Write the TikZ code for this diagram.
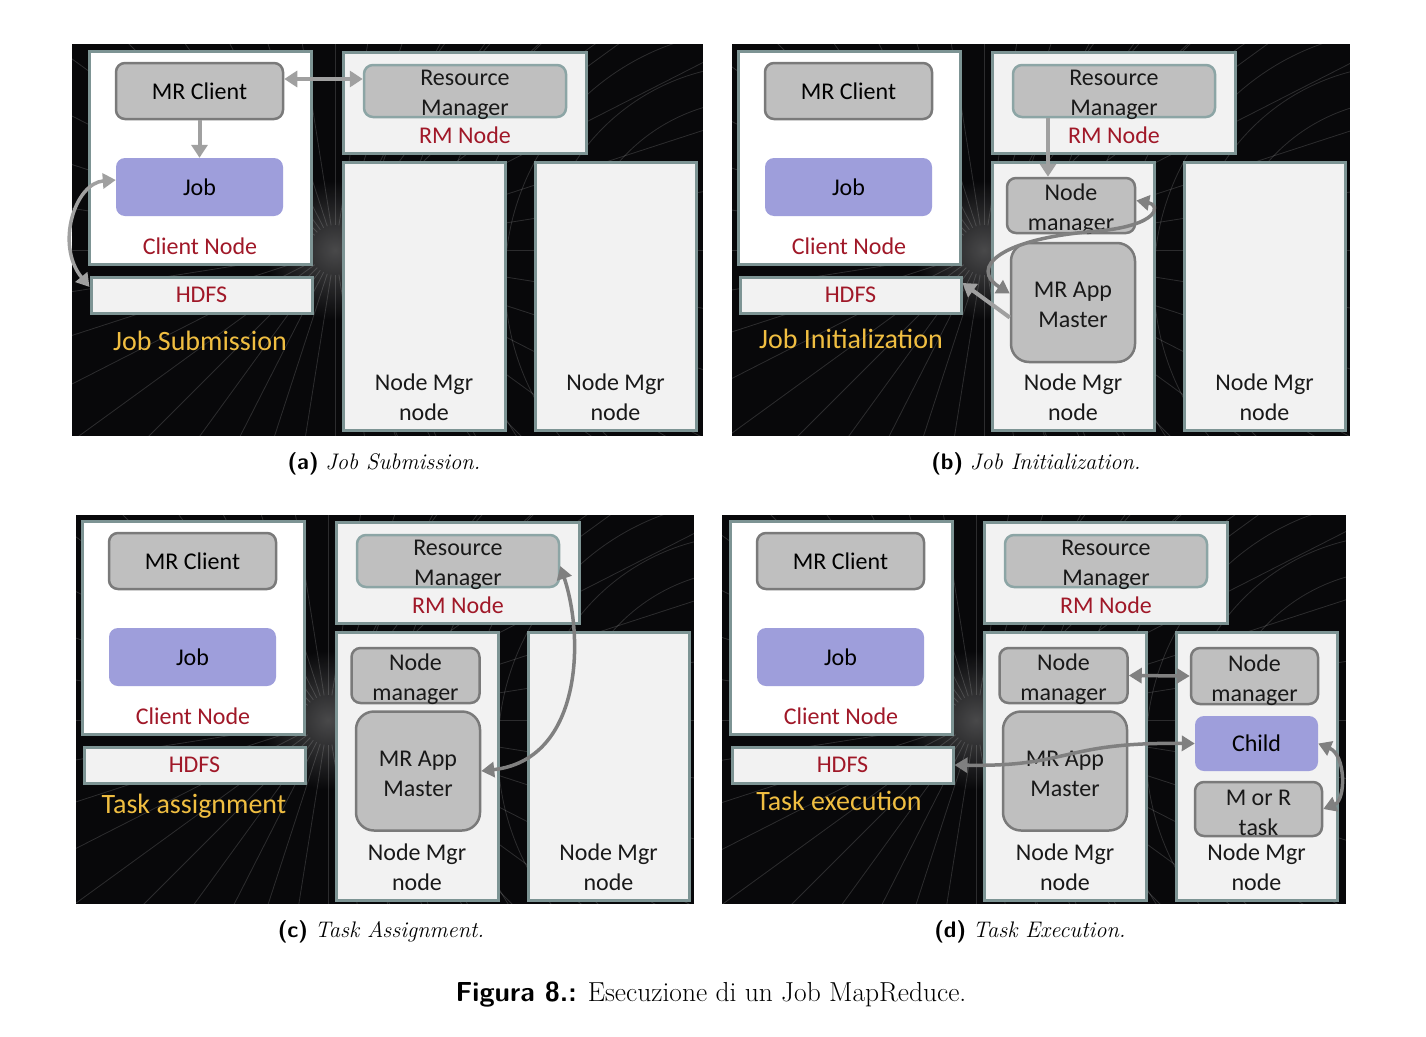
\documentclass[tikz,border=0pt]{standalone}
\usepackage{fontspec}
\newfontfamily\calfont{Carlito}
\usetikzlibrary{arrows.meta}

\definecolor{panelbg}{RGB}{8,8,10}
\definecolor{hostfill}{RGB}{242,242,242}
\definecolor{boxedge}{RGB}{125,148,148}
\definecolor{grayfill}{RGB}{191,191,191}
\definecolor{graydraw}{RGB}{122,122,122}
\definecolor{rmedge}{RGB}{140,165,165}
\definecolor{jobfill}{RGB}{158,158,219}
\definecolor{redtext}{RGB}{160,24,40}
\definecolor{titleyellow}{RGB}{240,190,65}
\definecolor{arrowgray}{RGB}{160,160,160}
\definecolor{curvegray}{RGB}{128,128,128}

\newcommand\boxfont{\calfont\fontsize{24}{30}\selectfont}
\newcommand\titlefont{\calfont\fontsize{28}{32}\selectfont}

\tikzset{
  hostbox/.style={draw=boxedge, line width=3pt, fill=hostfill, inner sep=0pt},
  graybox/.style={draw=graydraw, line width=2.5pt, fill=grayfill, rounded corners=9pt, inner sep=0pt},
  rmbox/.style={graybox, draw=rmedge},
  jobbox/.style={fill=jobfill, rounded corners=9pt, inner sep=0pt, font=\boxfont},
  lbl/.style={align=center, font=\boxfont, text=black!90},
  redlbl/.style={font=\boxfont, text=redtext},
  paneltitle/.style={font=\titlefont, text=titleyellow},
  capt/.style={font=\fontsize{22.5}{27}\selectfont},
  garrow/.style={draw=arrowgray, line width=4pt, -{Triangle[length=13pt,width=16pt]}},
  darrow/.style={draw=arrowgray, line width=4pt, {Triangle[length=13pt,width=16pt]}-{Triangle[length=13pt,width=16pt]}},
  curvearrow/.style={draw=curvegray, line width=3.5pt, {Triangle[length=13pt,width=15pt]}-{Triangle[length=13pt,width=15pt]}},
  streak/.style={white, opacity=.15, line width=.8pt}
}

% boxes shared by the four panels
\newcommand\clusterbase[1]{%
  \node[hostbox, fill=white, minimum width=222pt, minimum height=213pt] (#1-client) at (200,157.5) {};
  \node[graybox, minimum width=167pt, minimum height=56pt, font=\boxfont] (#1-mrc) at (199.5,91) {MR Client};
  \node[jobbox, minimum width=167pt, minimum height=58pt] (#1-job) at (199.5,187) {Job};
  \node[redlbl] (#1-clientlbl) at (200,246) {Client Node};
  \node[hostbox, minimum width=221pt, minimum height=36pt, font=\boxfont, text=redtext] (#1-hdfs) at (201.5,295) {HDFS};
  \node[hostbox, minimum width=243pt, minimum height=101pt] (#1-rmnode) at (464.5,102.5) {};
  \node[rmbox, minimum width=202pt, minimum height=52pt] (#1-rm) at (465,91) {};
  \node[lbl] (#1-rmtxt) at (465,95) {Resource\\Manager};
  \node[redlbl] (#1-rmlbl) at (465,135) {RM Node};
  \node[hostbox, minimum width=162pt, minimum height=268pt] (#1-nm1) at (424,296) {};
  \node[hostbox, minimum width=161pt, minimum height=268pt] (#1-nm2) at (615.5,296) {};
  \node[lbl] (#1-nm1lbl) at (424,397) {Node Mgr\\node};
  \node[lbl] (#1-nm2lbl) at (615.5,397) {Node Mgr\\node};
}

\begin{document}
\begin{tikzpicture}[x=1pt, y=-1pt]

\fill[white] (0,0) rectangle (1426,1036);
\useasboundingbox (0,0) rectangle (1426,1036);

% dark backgrounds
\foreach \xa/\ya/\xb/\yb/\fx/\fy in {72/44/703/436/335/250, 732/44/1350/436/984/250, 76/515/694/904/328/720, 722/515/1346/904/976/720}{
  \fill[panelbg] (\xa,\ya) rectangle (\xb,\yb);
  \begin{scope}
    \clip (\xa,\ya) rectangle (\xb,\yb);
    \shade[inner color=gray!80, outer color=panelbg, opacity=.45] (\fx,\fy) circle[radius=70];
    \foreach \a in {0,9,...,351}
      \draw[streak] (\fx,\fy) ++(\a:25) -- ++(\a:800);
    \foreach \r in {180,215,...,390}
      \draw[streak] (\fx+420,\fy+30) circle[radius=\r];
  \end{scope}
}

% (a)
\begin{scope}
  \clusterbase{a}
  \node[paneltitle] (a-title) at (200,341) {Job Submission};
  \draw[garrow] (a-mrc.south) -- (a-job.north);
  \draw[darrow] ([yshift=12pt]a-mrc.east) -- ([yshift=12pt]a-rm.west);
  \draw[curvearrow, draw=arrowgray] ([yshift=7pt]a-job.west) .. controls (75,183) and (55,245) .. ([yshift=8pt]a-hdfs.west);
\end{scope}

% (b)
\begin{scope}[shift={(649,0)}]
  \clusterbase{b}
  \node[paneltitle] (b-title) at (202,339) {Job Initialization};
  \node[graybox, minimum width=128pt, minimum height=55pt] (b-nmgr) at (422,205.5) {};
  \node[lbl] (b-nmgrtxt) at (422,209) {Node\\manager};
  \node[graybox, rounded corners=18pt, minimum width=124pt, minimum height=119pt] (b-appm) at (424,302.5) {};
  \node[lbl] (b-appmtxt) at (424,305) {MR App\\Master};
  \draw[garrow] ([xshift=-23pt]b-nmgr.north |- b-rm.south) -- ([xshift=-23pt]b-nmgr.north);
  \draw[curvearrow] ([yshift=5pt]b-nmgr.east) .. controls (512,205) and (510,225) .. (450,231)
    .. controls (350,238) and (320,268) .. ([yshift=9pt]b-appm.west);
  \draw[garrow] ([yshift=-15pt]b-appm.west) -- ([yshift=12pt]b-hdfs.east);
\end{scope}

% (c)
\begin{scope}[shift={(-7,470)}]
  \clusterbase{c}
  \node[paneltitle] (c-title) at (201,336) {Task assignment};
  \node[graybox, minimum width=128pt, minimum height=55pt] (c-nmgr) at (422.5,205.5) {};
  \node[lbl] (c-nmgrtxt) at (422.5,209) {Node\\manager};
  \node[graybox, rounded corners=18pt, minimum width=124pt, minimum height=119pt] (c-appm) at (425,301) {};
  \node[lbl] (c-appmtxt) at (425,304) {MR App\\Master};
  \draw[curvearrow] ([yshift=-5pt]c-rm.east) .. controls (592,170) and (588,290) .. (c-appm.east);
\end{scope}

% (d)
\begin{scope}[shift={(641,470)}]
  \clusterbase{d}
  \node[paneltitle] (d-title) at (198,331) {Task execution};
  \node[graybox, minimum width=128pt, minimum height=55pt] (d-nmgr) at (422.5,205.5) {};
  \node[lbl] (d-nmgrtxt) at (422.5,209) {Node\\manager};
  \node[graybox, rounded corners=18pt, minimum width=124pt, minimum height=119pt] (d-appm) at (424,301) {};
  \node[lbl] (d-appmtxt) at (424,304) {MR App\\Master};
  \node[graybox, minimum width=127pt, minimum height=56pt] (d-nmgr2) at (613.5,206) {};
  \node[lbl] (d-nmgr2txt) at (613.5,210) {Node\\manager};
  \node[jobbox, minimum width=123pt, minimum height=55pt] (d-child) at (615.5,273.5) {Child};
  \node[graybox, minimum width=127pt, minimum height=54pt] (d-task) at (617.5,339) {};
  \node[lbl] (d-tasktxt) at (617.5,343) {M or R\\task};
  \draw[curvearrow] (d-nmgr.east) -- (d-nmgr2.west);
  \draw[curvearrow] (d-hdfs.east) .. controls (430,297) and (420,272) .. (d-child.west);
  \draw[curvearrow] (d-child.east) .. controls (705,285) and (705,330) .. (d-task.east);
\end{scope}

% captions
\node[capt] (capa) at (384,464) {{\sffamily\bfseries (a)}\ \textit{Job Submission.}};
\node[capt] (capb) at (1036,464) {{\sffamily\bfseries (b)}\ \textit{Job Initialization.}};
\node[capt] (capc) at (381,932) {{\sffamily\bfseries (c)}\ \textit{Task Assignment.}};
\node[capt] (capd) at (1030,932) {{\sffamily\bfseries (d)}\ \textit{Task Execution.}};
\node[font=\fontsize{27.5}{32}\selectfont] (figcap) at (711,994) {{\sffamily\bfseries Figura 8.:} Esecuzione di un Job MapReduce.};

\end{tikzpicture}
\end{document}
